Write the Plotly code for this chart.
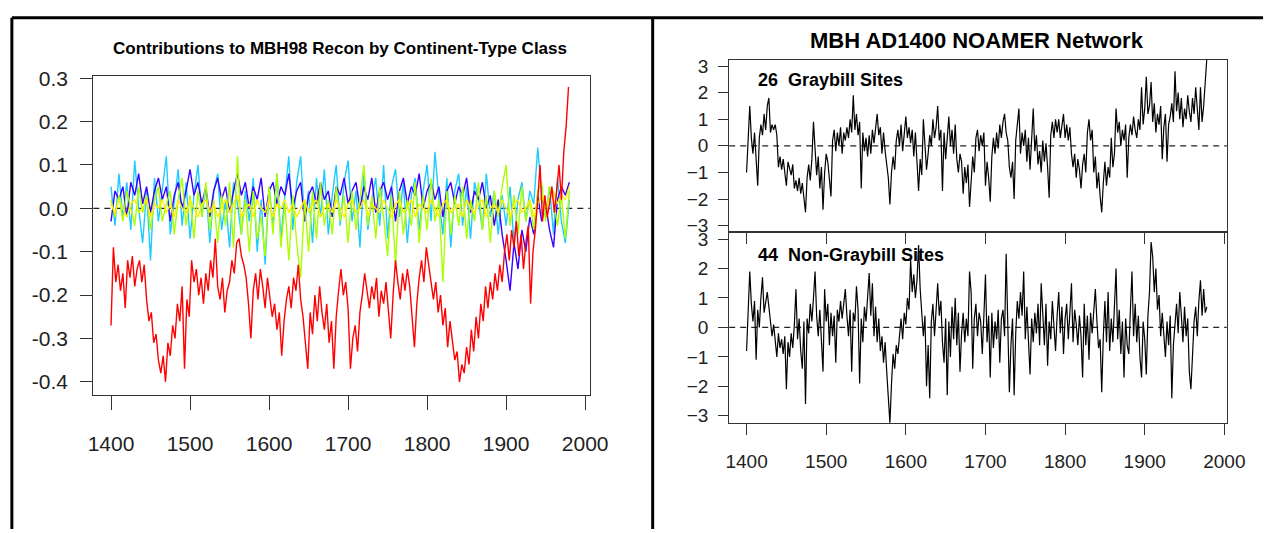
import plotly.graph_objects as go

# ---------------- data ----------------
# left panel: contributions, 3-year sampling for red, 5-year for the others
red_start, red_step = 1400, 3
red_vals = [
    -0.27, -0.09, -0.17, -0.13, -0.19, -0.15, -0.23, -0.12, -0.16, -0.11,
    -0.18, -0.14, -0.12, -0.17, -0.13, -0.21, -0.26, -0.24, -0.31, -0.29,
    -0.35, -0.38, -0.34, -0.40, -0.31, -0.34, -0.27, -0.30, -0.22, -0.26,
    -0.18, -0.37, -0.21, -0.25, -0.12, -0.17, -0.14, -0.20, -0.16, -0.22,
    -0.15, -0.19, -0.12, -0.16, -0.07, -0.18, -0.21, -0.16, -0.24, -0.19,
    -0.17, -0.12, -0.15, -0.08, -0.07, -0.11, -0.13, -0.16, -0.22, -0.30,
    -0.19, -0.15, -0.21, -0.14, -0.18, -0.23, -0.16, -0.20, -0.25, -0.22,
    -0.28, -0.24, -0.34, -0.26, -0.21, -0.18, -0.23, -0.16, -0.19, -0.13,
    -0.21, -0.25, -0.31, -0.37, -0.24, -0.29, -0.20, -0.26, -0.18, -0.24,
    -0.28, -0.22, -0.31, -0.26, -0.37, -0.25, -0.19, -0.14, -0.20, -0.17,
    -0.23, -0.37, -0.30, -0.27, -0.33, -0.24, -0.20, -0.15, -0.19, -0.23,
    -0.18, -0.21, -0.16, -0.25, -0.19, -0.22, -0.17, -0.24, -0.30, -0.20,
    -0.12, -0.17, -0.21, -0.15, -0.19, -0.14, -0.18, -0.25, -0.32, -0.22,
    -0.16, -0.12, -0.17, -0.09, -0.13, -0.18, -0.21, -0.17, -0.24, -0.20,
    -0.27, -0.23, -0.32, -0.26, -0.30, -0.35, -0.33, -0.40, -0.36, -0.38,
    -0.32, -0.36, -0.28, -0.33, -0.25, -0.30, -0.22, -0.26, -0.18, -0.23,
    -0.17, -0.21, -0.15, -0.19, -0.13, -0.17, -0.10, -0.06, -0.12, -0.05,
    -0.09, -0.03, -0.11, -0.06, -0.14, -0.08, -0.04, -0.22, -0.10, -0.05,
    0.02, 0.10, -0.03, 0.03, -0.02, 0.01, 0.05, -0.01, 0.04, 0.10,
    0.02, 0.13, 0.19, 0.28,
]

col_start, col_step = 1400, 5
blue_vals = [
    -0.03, 0.04, 0.02, 0.05, -0.02, 0.06, 0.03, 0.08, 0.01, 0.05,
    -0.01, 0.04, 0.07, 0.02, 0.05, -0.03, 0.03, 0.06, 0.00, 0.04,
    0.09, 0.03, 0.06, 0.01, 0.05, -0.02, 0.04, 0.07, 0.02, 0.05,
    -0.01, 0.04, 0.08, 0.03, 0.06, 0.00, 0.05, 0.02, 0.07, -0.02,
    0.04, 0.06, 0.01, 0.05, 0.03, 0.08, 0.00, 0.04, 0.06, -0.03,
    0.03, 0.05, 0.01, 0.06, 0.02, 0.04, -0.02, 0.05, 0.03, 0.07,
    0.01, 0.04, 0.06, 0.00, 0.05, 0.02, 0.07, -0.01, 0.04, 0.06,
    0.02, 0.05, -0.03, 0.04, 0.07, 0.01, 0.05, 0.03, 0.08, 0.00,
    0.04, 0.06, 0.02, 0.05, -0.02, 0.04, 0.06, 0.01, 0.05, 0.03,
    0.07, -0.01, 0.04, 0.02, 0.06, 0.00, 0.03, -0.04, 0.02, -0.06,
    -0.12, -0.19, -0.08, -0.14, -0.05, -0.10, -0.02, -0.06, 0.03, -0.03,
    0.01, -0.05, -0.09, 0.02, 0.05, 0.03, 0.06,
]
cyan_vals = [
    0.05, -0.04, 0.08, -0.02, 0.06, -0.05, 0.11, 0.00, -0.08, 0.04,
    -0.12, 0.07, -0.03, 0.05, 0.12, -0.06, 0.02, 0.09, -0.04, 0.06,
    -0.07, 0.03, 0.10, -0.02, 0.05, -0.08, 0.04, 0.08, -0.05, 0.02,
    -0.09, 0.06, 0.01, -0.06, 0.04, -0.03, 0.07, -0.10, 0.02, -0.13,
    0.05, -0.04, 0.08, -0.07, 0.03, 0.12, -0.05, 0.06, 0.12, -0.03,
    0.04, -0.08, 0.07, -0.02, 0.09, -0.06, 0.03, 0.10, -0.04, 0.06,
    0.11, -0.03, 0.04, -0.09, 0.08, -0.05, 0.02, 0.07, -0.04, 0.10,
    -0.07, 0.05, 0.09, -0.02, 0.06, -0.08, 0.03, 0.07, -0.05, 0.04,
    0.10, -0.03, 0.13, 0.02, -0.06, 0.07, -0.09, 0.04, 0.08, -0.04,
    0.05, -0.07, 0.06, 0.02, -0.05, 0.08, -0.02, 0.04, -0.06, 0.03,
    -0.04, 0.05, -0.08, 0.02, 0.06, -0.03, 0.04, 0.01, 0.14, 0.03,
    -0.02, 0.05, -0.06, 0.07, -0.03, -0.08, 0.02,
]
green_vals = [
    0.02, -0.02, 0.03, -0.03, 0.04, 0.00, -0.04, 0.05, -0.01, 0.03,
    -0.05, 0.02, 0.05, -0.03, 0.01, 0.04, -0.06, 0.02, 0.07, -0.04,
    0.03, -0.07, 0.04, -0.02, 0.06, -0.05, 0.02, -0.08, 0.03, -0.04,
    0.06, -0.09, 0.12, -0.06, 0.02, -0.10, 0.04, -0.07, -0.02, -0.11,
    0.05, -0.06, 0.08, -0.09, 0.01, -0.12, 0.03, -0.08, -0.16, 0.02,
    -0.10, 0.04, -0.07, 0.06, -0.04, 0.02, -0.06, 0.05, -0.03, 0.03,
    -0.08, 0.04, -0.05, 0.02, 0.10, -0.04, 0.03, -0.07, 0.05, -0.02,
    -0.11, 0.03, -0.13, 0.04, -0.06, 0.02, -0.04, 0.06, -0.08, 0.03,
    -0.05, 0.07, -0.03, 0.02, -0.17, 0.04, -0.06, 0.03, -0.04, 0.05,
    -0.07, 0.02, -0.03, 0.06, -0.05, 0.03, -0.08, 0.04, -0.02, 0.05,
    0.10, -0.04, 0.03, -0.06, 0.05, -0.03, 0.02, -0.05, 0.04, 0.06,
    -0.03, 0.05, 0.02, -0.04, 0.03, -0.07, 0.04,
]
yellow_vals = [
    0.01, -0.01, 0.02, 0.00, -0.02, 0.01, 0.02, -0.01, 0.00, 0.02,
    -0.02, 0.01, 0.00, 0.02, -0.01, 0.01, -0.02, 0.02, 0.00, -0.01,
    0.02, 0.00, -0.02, 0.01, 0.02, -0.01, 0.01, -0.02, 0.00, 0.02,
    -0.01, 0.01, 0.03, -0.02, 0.00, 0.01, -0.02, 0.02, 0.00, -0.01,
    0.02, -0.02, 0.01, 0.00, 0.02, -0.01, 0.01, -0.02, 0.00, 0.02,
    -0.01, 0.01, 0.02, -0.02, 0.00, 0.01, -0.01, 0.02, 0.00, -0.02,
    0.01, 0.02, -0.01, 0.00, 0.02, -0.02, 0.01, 0.00, -0.01, 0.02,
    0.00, -0.02, 0.01, 0.02, -0.01, 0.00, 0.02, -0.02, 0.01, 0.00,
    -0.01, 0.02, 0.00, -0.02, 0.01, 0.02, -0.01, 0.00, 0.01, -0.02,
    0.02, 0.00, -0.01, 0.01, 0.02, -0.02, 0.00, 0.01, -0.01, 0.02,
    0.00, -0.02, 0.01, 0.02, -0.01, 0.00, 0.02, -0.02, 0.01, 0.03,
    0.00, 0.02, 0.04, 0.01, 0.03, 0.02, 0.05,
]

# right panel: NOAMER network, 2-year sampling (1400, 1402, ... 1978)
net_start, net_step = 1400, 2
graybill_vals = [
    -1.0, 0.4, 1.5, 0.3, -0.3, 0.5, -0.4, -1.5, 0.3, 0.8, 0.4, 1.2, 0.6, 1.5, 1.8,
    0.5, 0.8, 0.6, 0.8, 0.4, -0.8, -0.4, -0.9, -0.5, -1.0, -1.5, -0.6, -0.9, -1.1, -0.7,
    -1.6, -1.3, -1.7, -1.2, -1.8, -1.4, -2.0, -2.5, -1.2, -0.7, -1.3, -0.5, 0.9, -0.2, -1.1,
    -0.4, -1.6, -0.8, -2.4, -1.0, -0.3, -0.6, -1.2, -1.9, 0.2, 0.6, -0.2, 0.5, 0.0, 0.7,
    -0.3, 0.5, 0.2, 0.7, 0.3, 1.0, 0.5, 1.9, 0.6, 1.2, 0.4, 0.9, -1.6, 0.5, -0.2,
    0.3, -0.4, 0.4, -0.3, 0.6, 0.1, 0.8, 1.2, 0.4, 0.7, -0.3, 0.5, -0.2, -0.8, -1.2,
    -2.2, -1.0, -0.4, -0.9, 0.2, 0.6, 0.0, 0.8, -0.2, 0.4, 1.1, 0.3, 0.7, 0.1, 0.6,
    -0.4, 0.5, -0.6, -1.7, -0.5, -1.1, 1.0, -0.2, -0.9, -0.3, 0.4, 0.0, 1.0, 0.3, 0.7,
    1.5, 0.2, 0.6, -1.7, 0.5, -0.5, 0.3, 1.1, 0.0, 0.6, -0.3, 0.8, -0.5, -1.0, -0.3,
    -0.6, -1.8, -0.8, -1.4, -0.7, -2.3, -1.1, -0.4, -1.0, 0.3, 0.6, -0.2, 0.4, 0.0, 0.5,
    -1.5, -0.6, -1.2, -2.1, -0.4, 0.3, -0.3, 0.5, -0.1, 0.8, 0.3, 0.9, 1.2, 0.5, 0.2,
    -0.8, -1.2, -0.6, -2.0, 0.2, 0.7, 1.4, -0.3, 0.5, 0.0, 0.6, -0.6, 0.3, -0.9, 0.4,
    1.4, -0.2, 0.4, -0.7, -0.2, -1.0, 0.2, -0.6, 0.1, -0.8, -1.95, 0.4, 0.9, 0.3, 1.0,
    0.5, 1.0, 0.3, 0.7, 1.2, 0.3, 0.8, 0.2, 0.7, -0.3, -0.8, -0.3, -1.2, -0.5, -0.9,
    -1.6, -0.7, -0.3, -1.0, 0.5, 1.0, 0.2, 0.6, -1.0, -0.4, -1.6, -1.0, -1.9, -2.5, -1.4,
    -0.6, -1.5, -0.8, -1.2, 0.3, -0.8, -0.3, 1.4, 0.5, 0.9, 0.0, 0.6, 0.2, 0.8, -1.2,
    0.3, 0.8, 0.4, 1.1, 0.6, 0.3, 1.0, 0.6, 2.2, 0.8, 1.4, 2.6, 1.2, 1.5, 2.4,
    0.9, 1.6, 0.5, 1.2, 0.8, 1.5, -0.5, 0.7, 1.2, -0.6, 0.8, 1.1, 1.6, 0.9, 2.8,
    1.3, 2.0, 1.0, 1.8, 0.7, 1.4, 1.0, 1.9, 1.3, 0.9, 1.8, 1.2, 2.2, 1.5, 0.6,
    2.2, 0.9, 1.5, 2.4, 3.3,
]
nongraybill_vals = [
    -0.8, 0.5, 1.9, 0.8, 0.2, 0.9, -1.1, 0.6, 0.0, 1.0, 1.7, 0.5, 0.9, 1.2, 0.7,
    0.2, -0.3, 0.1, -0.5, -1.0, -0.2, -0.7, -0.4, -0.9, -0.3, -2.1, -0.5, -1.0, -0.2, -0.7,
    0.1, 1.3, -0.4, 0.3, -0.8, -1.4, 0.2, -2.6, 0.3, -0.2, 0.8, 0.2, 1.0, 1.9, 0.4,
    -0.3, 0.6, -0.5, -1.5, 1.3, 0.2, 0.8, -0.6, 0.5, -0.3, 0.4, -1.2, 0.6, 0.2, 0.9,
    0.3, 0.8, 1.3, 0.4, -0.3, 0.6, -1.5, 0.5, 0.2, 1.4, 0.6, -1.9, 0.3, -0.5, 0.7,
    0.2, 1.1, 1.85, 0.4, 1.5, -0.3, 0.7, -0.5, 0.3, -0.8, -0.3, -1.2, -0.5, -1.5, -2.4,
    -3.25, -1.9, -0.9, -1.4, -0.6, -0.9, -0.2, 0.3, -0.4, 0.5, 0.1, 1.0, 0.6, 2.3, 1.2,
    1.8, 1.0, 1.6, 2.8, 1.3, 0.5, -0.3, 0.4, -2.0, -0.6, -2.4, 0.2, 0.8, -0.3, 0.6,
    1.5, 0.4, 0.9, -0.5, -1.2, 0.3, -2.3, 0.2, -1.0, 0.7, -0.4, 1.0, -0.6, 0.5, -1.5,
    -0.2, 0.5, -0.5, 0.3, -0.3, 1.9, 1.2, -1.4, 0.3, 0.8, -0.3, 0.5, 0.2, -0.9, 0.4,
    1.8, -0.5, 0.4, -1.7, 0.5, -0.7, 0.2, -0.4, 0.6, -1.2, 0.3, 0.6, -0.3, 2.5, 0.1,
    -2.2, -0.6, 0.3, -2.3, -0.2, 0.9, 0.3, 1.2, 0.4, 1.9, -0.4, 0.7, -0.3, -1.6, 0.3,
    -0.5, 0.5, -0.2, 0.8, -0.6, 1.5, 0.4, -0.6, 0.8, -1.3, 0.2, -0.4, 0.9, 0.1, -0.8,
    0.4, 1.2, -0.2, 0.7, -0.9, 0.3, 0.8, -0.4, 0.5, 1.5, -0.5, 0.6, 0.1, -0.6, 0.4,
    -0.3, -1.7, 0.8, -0.6, 0.4, -1.1, 0.5, -0.2, 0.7, 1.3, 0.2, -0.7, -0.4, -2.2, -0.3,
    0.9, -0.5, 1.2, -0.8, 0.3, -0.5, 0.6, 2.0, -0.4, 0.6, -0.9, 0.2, -1.7, 0.3, -0.6,
    -0.9, 0.6, 1.9, -0.3, 0.8, -0.5, 0.4, -1.0, -1.7, 0.2, -0.4, -1.6, 0.4, 1.2, 2.9,
    2.4, 1.2, 2.0, 0.6, 1.1, -0.3, 0.5, -0.2, -1.0, 0.2, -0.6, 0.4, -2.4, -0.6, 0.3,
    0.8, -0.2, 1.2, 0.4, -0.5, 0.7, -0.3, 0.3, -1.5, -2.1, -0.8, 0.2, 0.7, -0.3, 0.9,
    1.6, 0.4, 1.3, 0.5, 0.7,
]

year_ticks = [1400, 1500, 1600, 1700, 1800, 1900, 2000]
left_yticks = [-0.4, -0.3, -0.2, -0.1, 0.0, 0.1, 0.2, 0.3]
left_yticktext = ["-0.4", "-0.3", "-0.2", "-0.1", "0.0", "0.1", "0.2", "0.3"]
right_yticks = [-3, -2, -1, 0, 1, 2, 3]

left_title = "Contributions to MBH98 Recon by Continent-Type Class"
right_title = "MBH AD1400 NOAMER Network"
top_label = "26  Graybill Sites"
bottom_label = "44  Non-Graybill Sites"


def years(start, step, vals):
    return [start + step * i for i in range(len(vals))]


# ---------------- figure ----------------
W, H = 1285, 533
def px(x):
    return x / W
def py(y):
    return 1 - y / H

ARIAL = "Liberation Sans, Arial, sans-serif"

fig = go.Figure()

left_series = [
    (cyan_vals, "#1ECBFF", col_start, col_step),
    (blue_vals, "#3A00FF", col_start, col_step),
    (green_vals, "#AAFF00", col_start, col_step),
    (yellow_vals, "#FFEE00", col_start, col_step),
    (red_vals, "#FF0000", red_start, red_step),
]
for vals, color, st, sp in left_series:
    fig.add_trace(go.Scatter(x=years(st, sp, vals), y=vals, mode="lines",
                             line=dict(color=color, width=1.4),
                             xaxis="x", yaxis="y", showlegend=False,
                             hoverinfo="skip"))

fig.add_trace(go.Scatter(x=years(net_start, net_step, graybill_vals), y=graybill_vals,
                         mode="lines", line=dict(color="black", width=1.2),
                         xaxis="x2", yaxis="y2", showlegend=False, hoverinfo="skip"))
fig.add_trace(go.Scatter(x=years(net_start, net_step, nongraybill_vals), y=nongraybill_vals,
                         mode="lines", line=dict(color="black", width=1.2),
                         xaxis="x3", yaxis="y3", showlegend=False, hoverinfo="skip"))

axis_common = dict(showgrid=False, zeroline=False, showline=True, mirror=True,
                   linecolor="#333333", linewidth=1.2, ticks="outside",
                   tickcolor="#333333", tickwidth=1)

fig.update_layout(
    width=W, height=H,
    margin=dict(l=0, r=0, t=0, b=0),
    paper_bgcolor="white", plot_bgcolor="white",
    showlegend=False,
    xaxis=dict(domain=[px(90), px(596)], anchor="y", range=[1377.6, 2006],
               tickvals=year_ticks, ticklen=14, ticklabelstandoff=16,
               tickfont=dict(family=ARIAL, size=21, color="#222"), **axis_common),
    yaxis=dict(domain=[py(395), py(68)], anchor="x", range=[-0.4295, 0.3045],
               tickvals=left_yticks, ticktext=left_yticktext, ticklen=12,
               ticklabelstandoff=8,
               tickfont=dict(family=ARIAL, size=21, color="#222"), **axis_common),
    xaxis2=dict(domain=[px(738), px(1245)], anchor="y2", range=[1378.2, 2003],
                tickvals=year_ticks, ticklen=11, showticklabels=False, **axis_common),
    yaxis2=dict(domain=[py(228), py(51)], anchor="x2", range=[-3.24, 3.24],
                tickvals=right_yticks, ticklen=10, ticklabelstandoff=6,
                tickfont=dict(family=ARIAL, size=19, color="#222"), **axis_common),
    xaxis3=dict(domain=[px(738), px(1245)], anchor="y3", range=[1378.2, 2003],
                tickvals=year_ticks, ticklen=11, ticklabelstandoff=10,
                tickfont=dict(family=ARIAL, size=19, color="#222"), **axis_common),
    yaxis3=dict(domain=[py(424), py(228)], anchor="x3", range=[-3.24, 3.24],
                tickvals=right_yticks, ticklen=10, ticklabelstandoff=6,
                tickfont=dict(family=ARIAL, size=19, color="#222"), **axis_common),
)

# dashed zero reference lines
for xr, yr in [("x", "y"), ("x2", "y2"), ("x3", "y3")]:
    fig.add_shape(type="line", xref=f"{xr} domain", yref=yr, x0=0, x1=1, y0=0, y1=0,
                  line=dict(color="#222", width=1.3, dash="6px,5px"), layer="below")

# frame lines of the page (table borders)
frame = dict(type="line", xref="paper", yref="paper", line=dict(color="black", width=3))
fig.add_shape(**frame, x0=px(7), x1=px(7), y0=py(8), y1=py(533))
fig.add_shape(**frame, x0=px(7), x1=px(1282), y0=py(8), y1=py(8))
fig.add_shape(**frame, x0=px(660), x1=px(660), y0=py(8), y1=py(533))

# titles and labels
fig.add_annotation(text=f"<b>{left_title}</b>", xref="paper", yref="paper",
                   x=px(341), y=py(40), xanchor="center", yanchor="middle",
                   showarrow=False, font=dict(family=ARIAL, size=17, color="black"))
fig.add_annotation(text=f"<b>{right_title}</b>", xref="paper", yref="paper",
                   x=px(990), y=py(31), xanchor="center", yanchor="middle",
                   showarrow=False, font=dict(family=ARIAL, size=22, color="black"))
fig.add_annotation(text=f"<b>{top_label}</b>", xref="paper", yref="paper",
                   x=px(765), y=py(72), xanchor="left", yanchor="middle",
                   showarrow=False, font=dict(family=ARIAL, size=18, color="black"))
fig.add_annotation(text=f"<b>{bottom_label}</b>", xref="paper", yref="paper",
                   x=px(765), y=py(252), xanchor="left", yanchor="middle",
                   showarrow=False, font=dict(family=ARIAL, size=18, color="black"))

fig.write_html(
    "out.html",
    config={"displayModeBar": False},
    post_script=("document.body.style.margin='0';document.body.style.padding='0';"
                 "document.documentElement.style.overflow='hidden';"),
)
